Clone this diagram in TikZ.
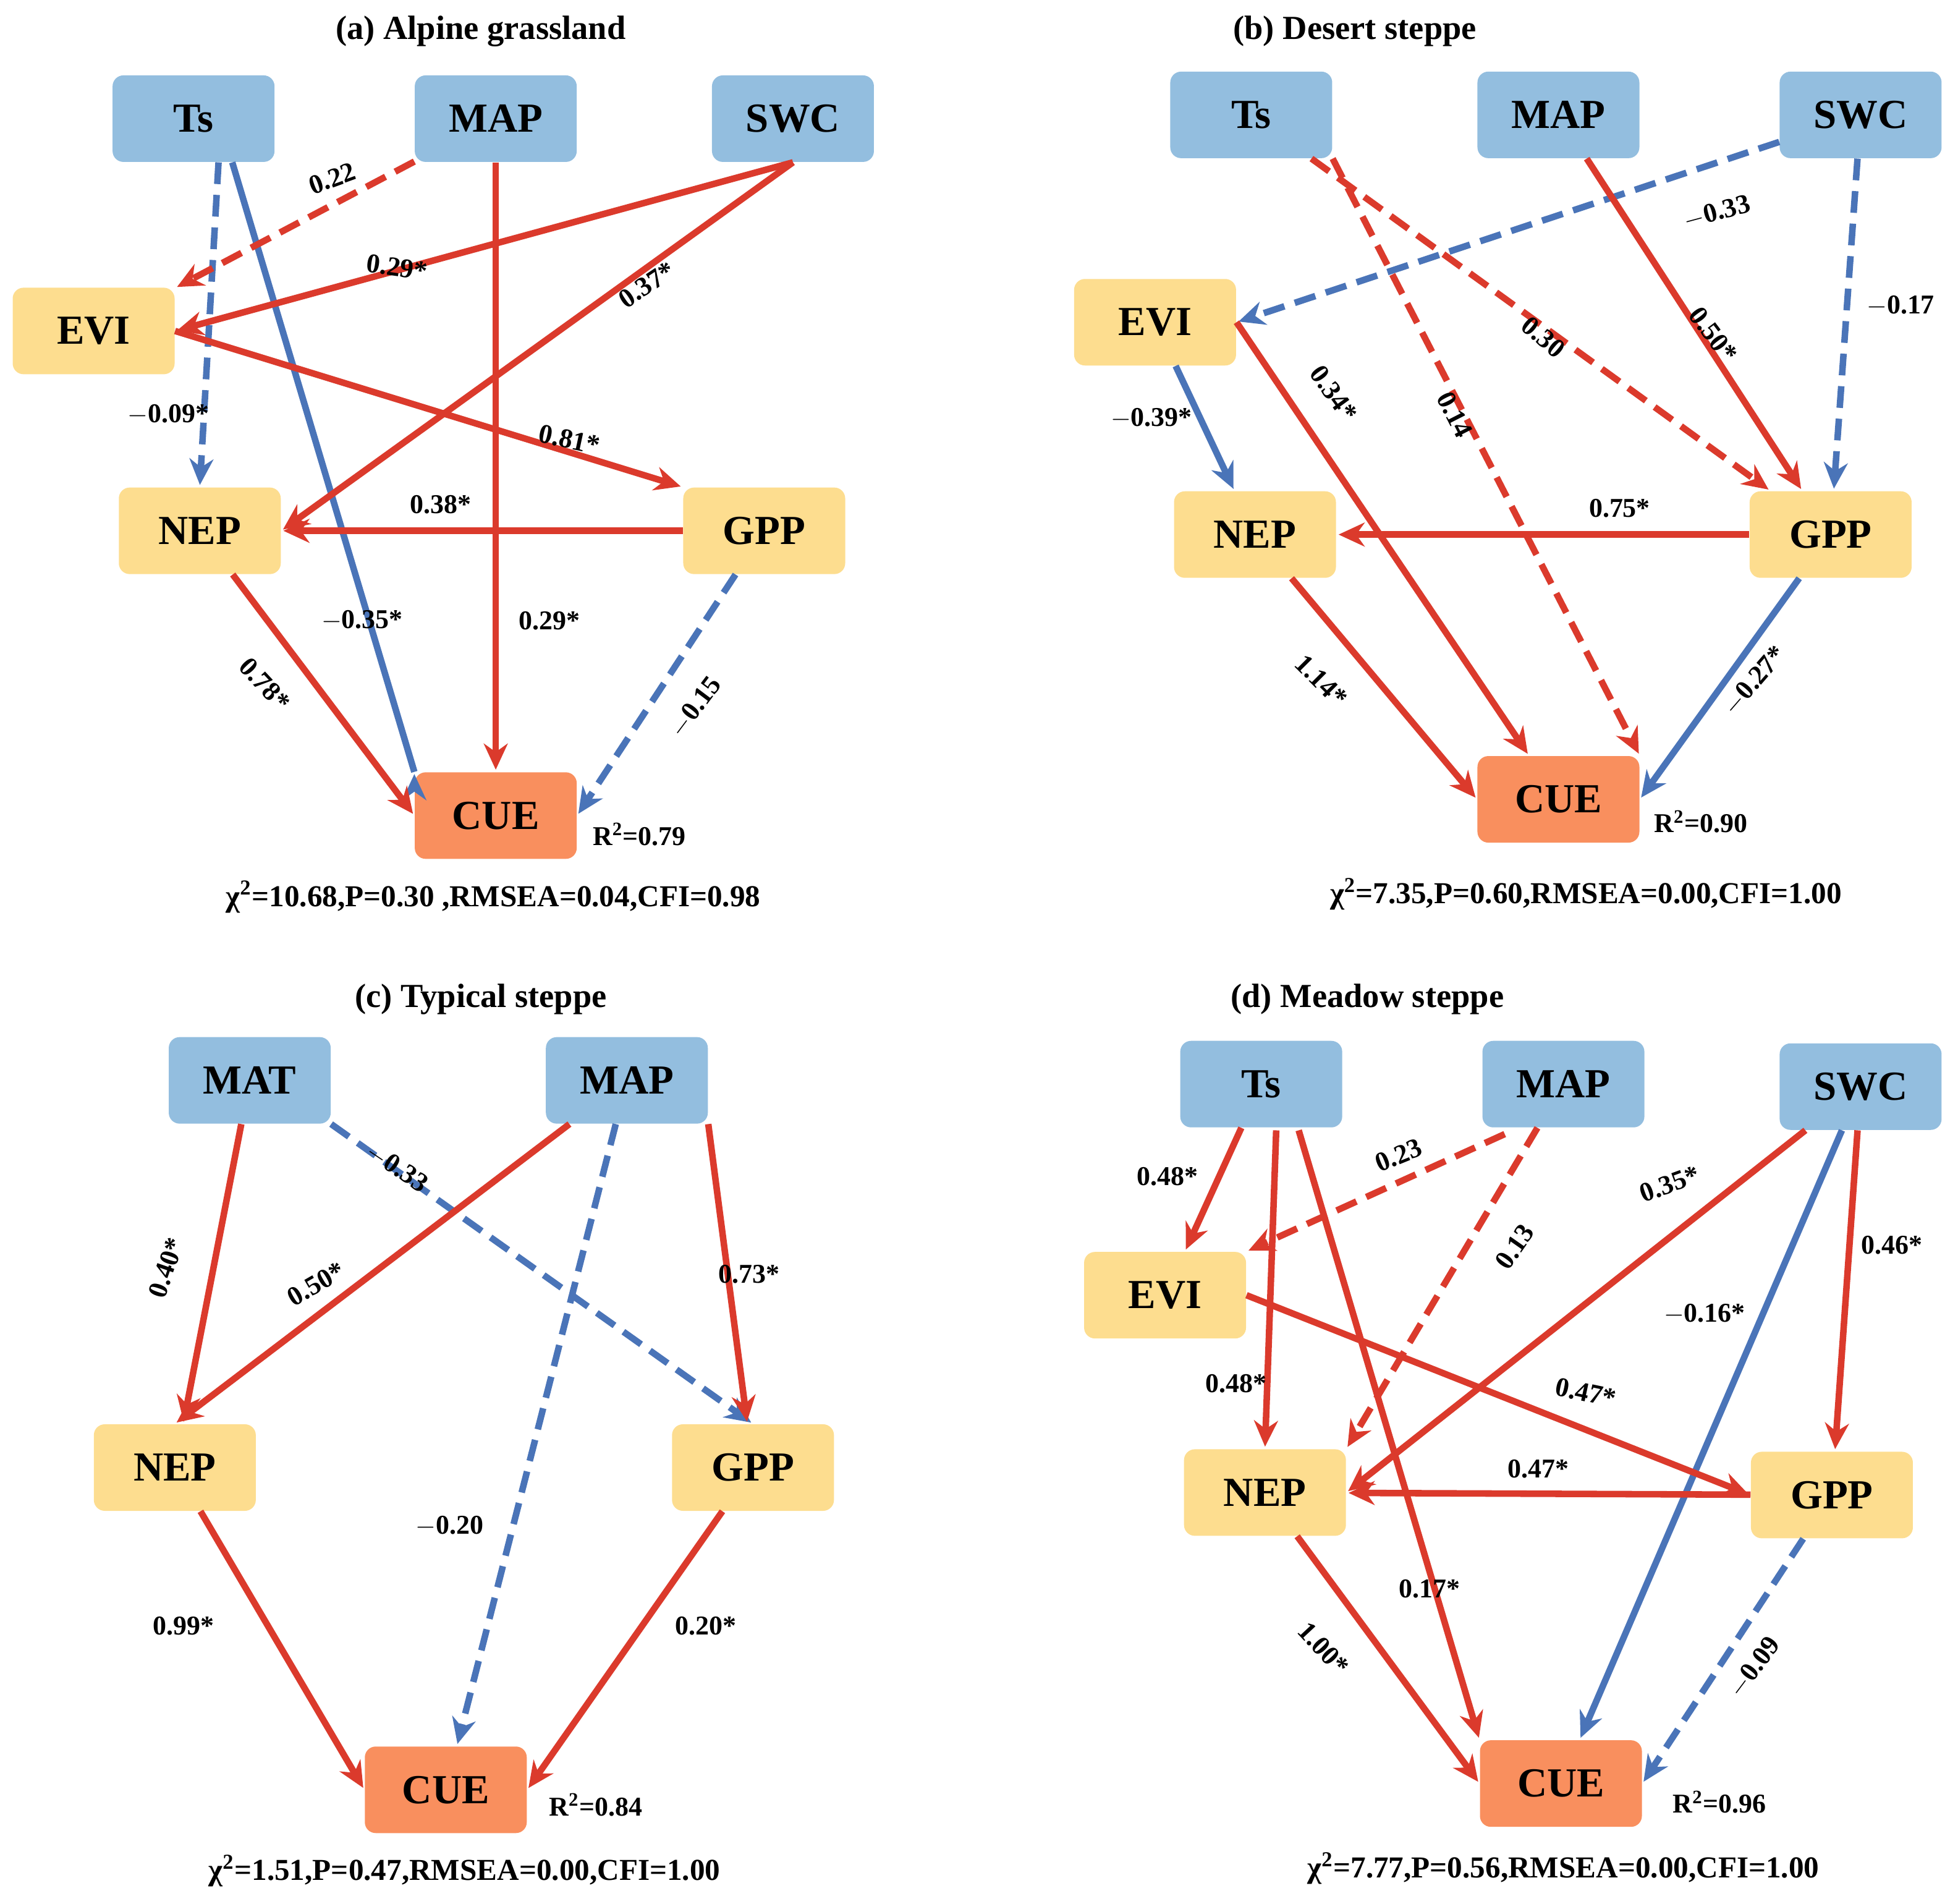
\documentclass[tikz,border=0pt]{standalone}
\usepackage{fontspec}
\setmainfont{Liberation Serif}
\usepackage{tikz}
\usetikzlibrary{arrows.meta}
\definecolor{posred}{HTML}{DB3A2C}
\definecolor{negblue}{HTML}{4A74B8}
\definecolor{clim}{HTML}{93BEDF}
\definecolor{veg}{HTML}{FDDD8F}
\definecolor{cuefill}{HTML}{F98F5E}
\tikzset{
  box/.style={rounded corners=5pt, minimum width=2.62cm, minimum height=1.4cm, font=\fontsize{19}{19}\selectfont\bfseries, inner sep=0pt},
  cl/.style={box, fill=clim},
  vg/.style={box, fill=veg},
  cu/.style={box, fill=cuefill},
  pth/.style={line width=3pt, -{Stealth[length=12pt,width=11pt]}, shorten >=1pt},
  p/.style={pth, posred},
  n/.style={pth, negblue},
  pd/.style={p, dash pattern=on 10pt off 5pt},
  nd/.style={n, dash pattern=on 10pt off 5pt},
  lab/.style={font=\fontsize{12.5}{13}\selectfont\bfseries, inner sep=1pt},
  ttl/.style={font=\fontsize{15.5}{16}\selectfont\bfseries},
  fit/.style={font=\fontsize{14}{14}\selectfont\bfseries}
}
\begin{document}
\begin{tikzpicture}[x=0.0202cm, y=-0.0202cm]
\useasboundingbox (0,0) rectangle (1568,1524);
% (a) Alpine grassland
\node[ttl] (at) at (385,25) {(a) Alpine grassland};
\node[cl] (aTs) at (155,95) {Ts};
\node[cl] (aMAP) at (397,95) {MAP};
\node[cl] (aSWC) at (635,95) {SWC};
\node[vg] (aEVI) at (75,265) {EVI};
\node[vg] (aNEP) at (160,425) {NEP};
\node[vg] (aGPP) at (612,425) {GPP};
\node[cu] (aCUE) at (397,653) {CUE};
\node[lab] (ar) at (512,668) {R\textsuperscript{2}=0.79};
\node[fit] (af) at (395,718) {χ\textsuperscript{2}=10.68,P=0.30 ,RMSEA=0.04,CFI=0.98};
\coordinate (a1) at (175,130);
\coordinate (a2) at (186,130);
\draw[nd] (a1) -- (aNEP.north);
\draw[n] (a2) -- (aCUE.north west) ++(0,0);
\draw[pd] (aMAP) -- (aEVI);
\draw[p] (aMAP) -- (aCUE);
\draw[p] (aSWC.south) -- (aEVI.east);
\draw[p] (aSWC.south) -- (aNEP.east);
\draw[p] (aEVI.east) -- (aGPP.north west);
\draw[p] (aGPP) -- (aNEP);
\draw[p] (aNEP) -- (aCUE.west);
\draw[nd] (aGPP) -- (aCUE.east);
\node[lab] at (135,332) {$-$0.09*};
\node[lab] at (290,497) {$-$0.35*};
\node[lab, rotate=20] at (266,143) {0.22};
\node[lab] at (440,497) {0.29*};
\node[lab, rotate=-8] at (318,214) {0.29*};
\node[lab, rotate=34] at (518,228) {0.37*};
\node[lab, rotate=-12] at (456,352) {0.81*};
\node[lab] at (353,404) {0.38*};
\node[lab, rotate=-47] at (212,548) {0.78*};
\node[lab, rotate=53] at (557,566) {$-$0.15};
% (b) Desert steppe
\node[ttl] (bt) at (1085,25) {(b) Desert steppe};
\node[cl] (bTs) at (1002,92) {Ts};
\node[cl] (bMAP) at (1248,92) {MAP};
\node[cl] (bSWC) at (1490,92) {SWC};
\node[vg] (bEVI) at (925,258) {EVI};
\node[vg] (bNEP) at (1005,428) {NEP};
\node[vg] (bGPP) at (1466,428) {GPP};
\node[cu] (bCUE) at (1248,640) {CUE};
\node[lab] (br) at (1362,658) {R\textsuperscript{2}=0.90};
\node[fit] (bf) at (1270,716) {χ\textsuperscript{2}=7.35,P=0.60,RMSEA=0.00,CFI=1.00};
\draw[nd] (bSWC) -- (bEVI.east);
\draw[nd] (bSWC) -- (bGPP);
\draw[p] (bMAP) -- (bGPP);
\draw[pd] (bTs) -- (bGPP);
\draw[pd] (bTs.south east) -- (bCUE.north east);
\draw[n] (bEVI) -- (bNEP);
\draw[p] (bEVI.east) -- (bCUE);
\draw[p] (bGPP) -- (bNEP);
\draw[p] (bNEP) -- (bCUE.west);
\draw[n] (bGPP) -- (bCUE.east);
\node[lab, rotate=15] at (1375,170) {$-$0.33};
\node[lab] at (1522,245) {$-$0.17};
\node[lab, rotate=-53] at (1372,268) {0.50*};
\node[lab, rotate=-40] at (1236,270) {0.30};
\node[lab, rotate=-63] at (1165,332) {0.14};
\node[lab] at (922,335) {$-$0.39*};
\node[lab, rotate=-54] at (1068,315) {0.34*};
\node[lab] at (1297,407) {0.75*};
\node[lab, rotate=-45] at (1058,545) {1.14*};
\node[lab, rotate=49] at (1405,545) {$-$0.27*};
% (c) Typical steppe
\node[ttl] (ct) at (385,800) {(c) Typical steppe};
\node[cl] (cMAT) at (200,865) {MAT};
\node[cl] (cMAP) at (502,865) {MAP};
\node[vg] (cNEP) at (140,1175) {NEP};
\node[vg] (cGPP) at (603,1175) {GPP};
\node[cu] (cCUE) at (357,1433) {CUE};
\node[lab] (cr) at (477,1445) {R\textsuperscript{2}=0.84};
\node[fit] (cf) at (372,1498) {χ\textsuperscript{2}=1.51,P=0.47,RMSEA=0.00,CFI=1.00};
\draw[p] (cMAT) -- (cNEP);
\draw[nd] (cMAT.south east) -- (cGPP.north);
\draw[p] (cMAP) -- (cNEP.north);
\draw[p] (cMAP.south east) -- (cGPP);
\draw[nd] (cMAP) -- (cCUE);
\draw[p] (cNEP) -- (cCUE.west);
\draw[p] (cGPP) -- (cCUE.east);
\node[lab, rotate=71] at (133,1015) {0.40*};
\node[lab, rotate=-34] at (318,935) {$-$0.33};
\node[lab, rotate=30] at (253,1028) {0.50*};
\node[lab] at (600,1020) {0.73*};
\node[lab] at (360,1222) {$-$0.20};
\node[lab] at (147,1302) {0.99*};
\node[lab] at (565,1302) {0.20*};
% (d) Meadow steppe
\node[ttl] (dt) at (1095,800) {(d) Meadow steppe};
\node[cl] (dTs) at (1010,868) {Ts};
\node[cl] (dMAP) at (1252,868) {MAP};
\node[cl] (dSWC) at (1490,870) {SWC};
\node[vg] (dEVI) at (933,1037) {EVI};
\node[vg] (dNEP) at (1013,1195) {NEP};
\node[vg] (dGPP) at (1467,1197) {GPP};
\node[cu] (dCUE) at (1250,1428) {CUE};
\node[lab] (dr) at (1377,1443) {R\textsuperscript{2}=0.96};
\node[fit] (df) at (1252,1496) {χ\textsuperscript{2}=7.77,P=0.56,RMSEA=0.00,CFI=1.00};
\coordinate (d1) at (1022,905);
\coordinate (d2) at (1040,905);
\coordinate (d3) at (1205,908);
\draw[p] (dTs) -- (dEVI);
\draw[pd] (d3) -- (dEVI.north east);
\draw[p] (d1) -- (dNEP.north);
\draw[p] (d2) -- (dCUE.north west);
\draw[pd] (dMAP) -- (dNEP.north east);
\draw[p] (dSWC) -- (dNEP.east);
\draw[n] (dSWC) -- (dCUE);
\draw[p] (dSWC) -- (dGPP);
\draw[p] (dEVI.east) -- (dGPP.west);
\draw[p] (dGPP) -- (dNEP);
\draw[p] (dNEP) -- (dCUE.west);
\draw[nd] (dGPP) -- (dCUE.east);
\node[lab] at (935,942) {0.48*};
\node[lab, rotate=22] at (1120,925) {0.23};
\node[lab] at (990,1108) {0.48*};
\node[lab] at (1145,1272) {0.17*};
\node[lab, rotate=55] at (1213,998) {0.13};
\node[lab, rotate=20] at (1337,948) {0.35*};
\node[lab] at (1365,1052) {$-$0.16*};
\node[lab] at (1515,997) {0.46*};
\node[lab, rotate=-12] at (1270,1115) {0.47*};
\node[lab] at (1232,1176) {0.47*};
\node[lab, rotate=-47] at (1060,1320) {1.00*};
\node[lab, rotate=53] at (1405,1335) {$-$0.09};
\end{tikzpicture}
\end{document}
